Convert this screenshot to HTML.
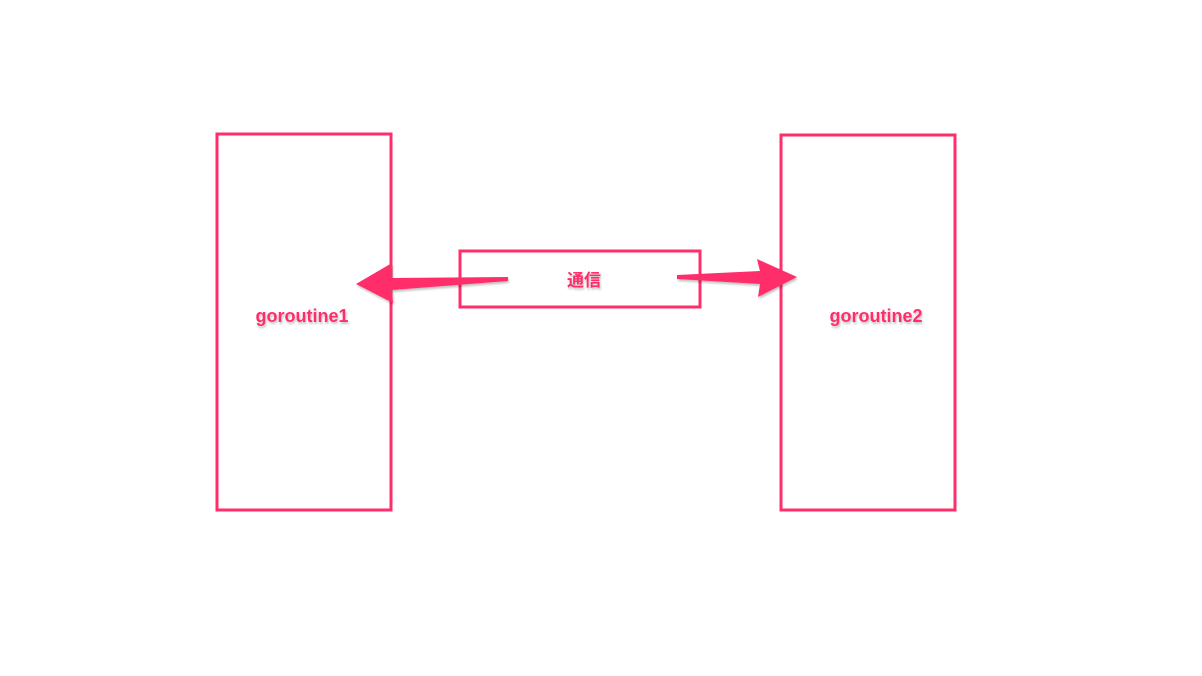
<!DOCTYPE html>
<html><head><meta charset="utf-8"><style>
html,body{margin:0;padding:0;background:#fff;width:1202px;height:676px;overflow:hidden}
svg{display:block}
text{font-family:"Liberation Sans","Noto Sans CJK JP",sans-serif;font-weight:bold;fill:#ff2d6a}
</style></head><body>
<svg width="1202" height="676" viewBox="0 0 1202 676">
<defs><filter id="sh" x="-10%" y="-30%" width="120%" height="160%"><feDropShadow dx="1" dy="2" stdDeviation="1" flood-color="#000" flood-opacity="0.25"/></filter></defs>
<rect x="217" y="134" width="174" height="376" fill="none" stroke="#ff2d6a" stroke-width="3"/>
<rect x="781" y="135" width="174" height="375" fill="none" stroke="#ff2d6a" stroke-width="3"/>
<rect x="460" y="251" width="240" height="56" fill="none" stroke="#ff2d6a" stroke-width="3"/>
<path filter="url(#sh)" fill="#ff2d6a" d="M508,277 L508,281 L392,290 L393,303 L356,284 L392,263 L392,278 Z"/>
<path filter="url(#sh)" fill="#ff2d6a" d="M677,275 L677,279 L760,284 L758,297 L797,277 L757,259 L760,271 Z"/>
<text filter="url(#sh)" x="584" y="286" font-size="17" text-anchor="middle">通信</text>
<text filter="url(#sh)" x="302" y="322" font-size="18" text-anchor="middle">goroutine1</text>
<text filter="url(#sh)" x="876" y="322" font-size="18" text-anchor="middle">goroutine2</text>
</svg>
</body></html>
